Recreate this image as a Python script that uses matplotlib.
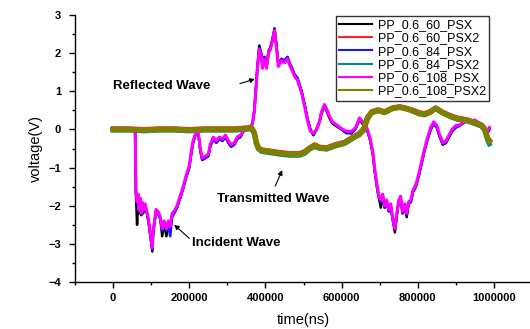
import numpy as np
import matplotlib.pyplot as plt

plt.rcParams['font.family'] = ['Liberation Sans', 'DejaVu Sans']

# time grid (ns) for the incident/reflected gauge traces (PSX)
t_psx = [0, 10000, 20000, 30000, 40000, 50000, 56000, 58000, 60000, 63000,
         66000, 68000, 71000, 74000, 76000, 79000, 84000, 90000, 95000, 100000,
         103000, 105000, 110000, 113000, 118000, 124000, 129000, 134000, 140000, 145000,
         150000, 155000, 160000, 168000, 176000, 184000, 192000, 200000, 205000, 210000,
         216000, 224000, 229000, 234000, 242000, 250000, 255000, 263000, 271000, 279000,
         287000, 295000, 303000, 310000, 318000, 326000, 334000, 342000, 350000, 358000,
         366000, 371000, 376000, 379000, 384000, 390000, 392000, 397000, 403000, 408000,
         413000, 418000, 424000, 429000, 434000, 442000, 450000, 458000, 463000, 468000,
         476000, 484000, 495000, 503000, 510000, 518000, 526000, 534000, 542000, 547000,
         555000, 560000, 568000, 576000, 587000, 600000, 613000, 626000, 637000, 647000,
         655000, 666000, 674000, 682000, 687000, 692000, 697000, 703000, 708000, 713000,
         718000, 724000, 729000, 734000, 740000, 745000, 750000, 755000, 760000, 766000,
         771000, 776000, 782000, 787000, 795000, 803000, 810000, 818000, 826000, 834000,
         842000, 850000, 858000, 866000, 874000, 882000, 890000, 900000, 910000, 924000,
         937000, 950000, 963000, 974000, 984000, 988000]

v_60_psx = [0.0, 0.02, -0.03, 0.02, -0.02, 0.03, 0.0, -0.1, -1.7, -2.5,
            -1.75, -2.2, -1.85, -2.25, -1.95, -2.2, -2.0, -2.25, -2.55, -2.95,
            -3.2, -2.75, -2.35, -2.1, -2.2, -2.35, -2.8, -2.45, -2.8, -2.45,
            -2.6, -2.25, -2.2, -2.05, -1.8, -1.55, -1.25, -1.0, -0.65, -0.35,
            -0.15, -0.12, -0.55, -0.8, -0.75, -0.7, -0.45, -0.25, -0.35, -0.25,
            -0.3, -0.2, -0.35, -0.45, -0.4, -0.25, -0.2, -0.05, 0.0, 0.05,
            0.15, 0.5, 1.2, 1.65, 2.2, 1.95, 1.65, 1.9, 1.65, 2.05,
            2.15, 2.35, 2.65, 2.2, 1.7, 1.85, 1.8, 1.9, 1.75, 1.65,
            1.45, 1.35, 1.0, 0.65, 0.3, 0.0, -0.15, 0.0, 0.2, 0.4,
            0.62, 0.5, 0.3, 0.15, 0.08, 0.0, -0.1, -0.1, 0.02, 0.25,
            0.15, 0.0, -0.25, -0.65, -1.1, -1.45, -1.75, -2.05, -1.75, -2.05,
            -1.9, -2.15, -2.0, -2.35, -2.7, -2.25, -1.9, -1.8, -2.2, -2.05,
            -2.3, -1.95, -1.9, -1.65, -1.5, -1.2, -0.9, -0.55, -0.25, 0.0,
            0.15, 0.05, -0.2, -0.4, -0.35, -0.2, -0.05, 0.05, 0.1, 0.2,
            0.2, 0.22, 0.12, 0.02, -0.08, 0.0]

v_84_psx = [0.0, 0.03, -0.02, 0.02, -0.03, 0.02, 0.0, -0.1, -1.65, -1.95,
            -1.75, -2.15, -1.85, -2.2, -1.95, -2.15, -2.0, -2.25, -2.55, -2.95,
            -3.15, -2.7, -2.35, -2.15, -2.2, -2.35, -2.65, -2.45, -2.65, -2.5,
            -2.8, -2.3, -2.2, -2.05, -1.8, -1.55, -1.25, -1.0, -0.65, -0.35,
            -0.15, -0.12, -0.55, -0.8, -0.75, -0.7, -0.45, -0.25, -0.35, -0.25,
            -0.3, -0.2, -0.35, -0.45, -0.4, -0.25, -0.2, -0.05, 0.0, 0.05,
            0.15, 0.5, 1.2, 1.6, 2.15, 1.95, 1.65, 1.9, 1.65, 2.0,
            2.1, 2.3, 2.6, 2.2, 1.7, 1.85, 1.8, 1.9, 1.75, 1.65,
            1.45, 1.35, 1.0, 0.65, 0.3, 0.0, -0.15, 0.0, 0.2, 0.45,
            0.65, 0.55, 0.35, 0.18, 0.1, 0.0, -0.08, -0.1, 0.05, 0.3,
            0.2, 0.05, -0.2, -0.6, -1.05, -1.45, -1.75, -1.9, -1.75, -2.05,
            -1.9, -2.15, -2.0, -2.35, -2.6, -2.25, -1.9, -1.8, -2.2, -2.0,
            -2.25, -1.95, -1.9, -1.65, -1.5, -1.2, -0.9, -0.55, -0.25, 0.0,
            0.15, 0.05, -0.2, -0.4, -0.35, -0.2, -0.05, 0.05, 0.1, 0.2,
            0.2, 0.22, 0.12, 0.02, -0.08, 0.0]

v_108_psx = [0.0, 0.03, -0.02, 0.02, -0.02, 0.03, 0.0, -0.1, -1.6, -1.9,
             -1.7, -2.1, -1.8, -2.2, -1.9, -2.1, -1.95, -2.2, -2.5, -2.9,
             -3.1, -2.7, -2.3, -2.1, -2.15, -2.3, -2.6, -2.4, -2.6, -2.4,
             -2.55, -2.2, -2.15, -2.0, -1.75, -1.5, -1.2, -0.95, -0.6, -0.3,
             -0.12, -0.1, -0.5, -0.75, -0.7, -0.65, -0.4, -0.2, -0.3, -0.2,
             -0.25, -0.15, -0.3, -0.4, -0.35, -0.2, -0.15, -0.05, 0.0, 0.05,
             0.15, 0.5, 1.2, 1.6, 2.1, 1.9, 1.6, 1.85, 1.6, 2.0,
             2.1, 2.3, 2.6, 2.15, 1.65, 1.8, 1.75, 1.85, 1.7, 1.6,
             1.4, 1.3, 0.95, 0.6, 0.25, -0.05, -0.1, 0.0, 0.2, 0.45,
             0.65, 0.55, 0.35, 0.2, 0.12, 0.02, -0.05, -0.05, 0.05, 0.3,
             0.2, 0.05, -0.2, -0.6, -1.05, -1.4, -1.7, -1.85, -1.7, -2.0,
             -1.85, -2.1, -1.95, -2.3, -2.6, -2.2, -1.85, -1.75, -2.15, -1.95,
             -2.2, -1.9, -1.85, -1.6, -1.45, -1.15, -0.85, -0.5, -0.2, 0.05,
             0.2, 0.1, -0.15, -0.35, -0.3, -0.15, 0.0, 0.1, 0.12, 0.22,
             0.2, 0.25, 0.15, 0.05, -0.05, 0.05]

# time grid (ns) for the transmitted gauge traces (PSX2)
t_psx2 = [0, 40000, 80000, 120000, 160000, 200000, 240000, 280000, 320000, 358000,
          363000, 371000, 376000, 382000, 390000, 410000, 437000, 463000, 490000, 503000,
          516000, 529000, 542000, 561000, 582000, 608000, 629000, 647000, 658000, 668000,
          679000, 695000, 713000, 734000, 753000, 766000, 784000, 805000, 818000, 832000,
          847000, 863000, 884000, 905000, 929000, 950000, 968000, 976000, 984000, 988000]

v_60_psx2 = [0.02, 0.02, 0.0, 0.02, 0.02, 0.0, 0.02, 0.02, 0.02, 0.05,
             0.06, -0.08, -0.33, -0.48, -0.53, -0.56, -0.6, -0.63, -0.63, -0.58,
             -0.48, -0.4, -0.46, -0.48, -0.4, -0.33, -0.2, -0.1, 0.02, 0.32,
             0.47, 0.52, 0.47, 0.57, 0.6, 0.57, 0.52, 0.44, 0.42, 0.47,
             0.57, 0.47, 0.37, 0.3, 0.26, 0.19, 0.12, 0.02, -0.23, -0.28]

v_84_psx2 = [-0.02, -0.02, -0.04, -0.02, -0.02, -0.04, -0.02, -0.02, -0.02, 0.01,
             0.03, -0.12, -0.37, -0.52, -0.58, -0.61, -0.65, -0.68, -0.68, -0.63,
             -0.52, -0.45, -0.5, -0.52, -0.44, -0.37, -0.24, -0.14, -0.02, 0.28,
             0.43, 0.49, 0.44, 0.55, 0.59, 0.56, 0.49, 0.4, 0.38, 0.44,
             0.56, 0.45, 0.34, 0.26, 0.22, 0.15, 0.08, -0.03, -0.3, -0.38]

v_108_psx2 = [0.0, 0.0, -0.02, 0.0, 0.0, -0.02, 0.0, 0.0, 0.0, 0.03,
              0.05, -0.1, -0.35, -0.5, -0.55, -0.58, -0.62, -0.65, -0.65, -0.6,
              -0.5, -0.42, -0.48, -0.5, -0.42, -0.35, -0.22, -0.12, 0.0, 0.3,
              0.45, 0.5, 0.45, 0.55, 0.58, 0.55, 0.5, 0.42, 0.4, 0.45,
              0.55, 0.45, 0.35, 0.28, 0.24, 0.17, 0.1, 0.0, -0.25, -0.3]

fig = plt.figure(figsize=(5.3, 3.29), dpi=100)
ax = fig.add_axes([75 / 530, 47 / 329, 457 / 530, 267 / 329])

ax.plot(t_psx, v_60_psx, color='black', lw=1.8, label='PP_0.6_60_PSX')
ax.plot(t_psx2, v_60_psx2, color='#ff2020', lw=3.5, label='PP_0.6_60_PSX2')
ax.plot(t_psx, v_84_psx, color='#1515ff', lw=1.8, label='PP_0.6_84_PSX')
ax.plot(t_psx2, v_84_psx2, color='#008b8b', lw=3.5, label='PP_0.6_84_PSX2')
ax.plot(t_psx, v_108_psx, color='#ff00ff', lw=2.2, label='PP_0.6_108_PSX')
ax.plot(t_psx2, v_108_psx2, color='#808000', lw=4.0, label='PP_0.6_108_PSX2')

ax.set_xlim(-100000, 1100000)
ax.set_ylim(-4, 3)
ax.set_xticks([0, 200000, 400000, 600000, 800000, 1000000])
ax.set_xticks(np.arange(-100000, 1100001, 200000), minor=True)
ax.set_yticks(np.arange(-4, 4, 1))
ax.set_yticks(np.arange(-3.5, 3, 1), minor=True)
ax.set_xticklabels(['0', '200000', '400000', '600000', '800000', '1000000'])
ax.tick_params(which='major', length=4, width=1, labelsize=8)
ax.tick_params(axis='x', which='major', pad=4)
ax.tick_params(axis='y', which='major', pad=6)
ax.tick_params(which='minor', length=2.5, width=1)
for lab in ax.get_xticklabels() + ax.get_yticklabels():
    lab.set_fontweight('bold')
for s in ['top', 'right']:
    ax.spines[s].set_visible(False)
for s in ['left', 'bottom']:
    ax.spines[s].set_linewidth(1)

ax.set_xlabel('time(ns)', fontsize=10.5, labelpad=7)
ax.set_ylabel('voltage(V)', fontsize=10.5, labelpad=4)

arrow = dict(arrowstyle='-|>', color='black', lw=0.8, mutation_scale=7)
ax.text(0, 1.15, 'Reflected Wave', fontsize=9.5, fontweight='bold',
        va='center', ha='left')
ax.annotate('', xy=(379000, 1.34), xytext=(326000, 1.18), arrowprops=arrow)
ax.annotate('', xy=(447000, -1.0), xytext=(423000, -1.55), arrowprops=arrow)
ax.text(274000, -1.82, 'Transmitted Wave', fontsize=9.5, fontweight='bold',
        va='center', ha='left')
ax.annotate('', xy=(155000, -2.45), xytext=(205000, -2.9), arrowprops=arrow)
ax.text(208000, -2.97, 'Incident Wave', fontsize=9.5, fontweight='bold',
        va='center', ha='left')

leg = ax.legend(loc='upper right', bbox_to_anchor=(489 / 530, 1 - 16 / 329),
                bbox_transform=fig.transFigure, fontsize=9, frameon=True,
                fancybox=False, edgecolor='black', handlelength=2.6,
                handletextpad=0.5, labelspacing=0.1, borderpad=0.25,
                borderaxespad=0)
leg.get_frame().set_linewidth(1)
for line in leg.get_lines():
    line.set_linewidth(1.5)

fig.savefig('out.png', dpi=100)
